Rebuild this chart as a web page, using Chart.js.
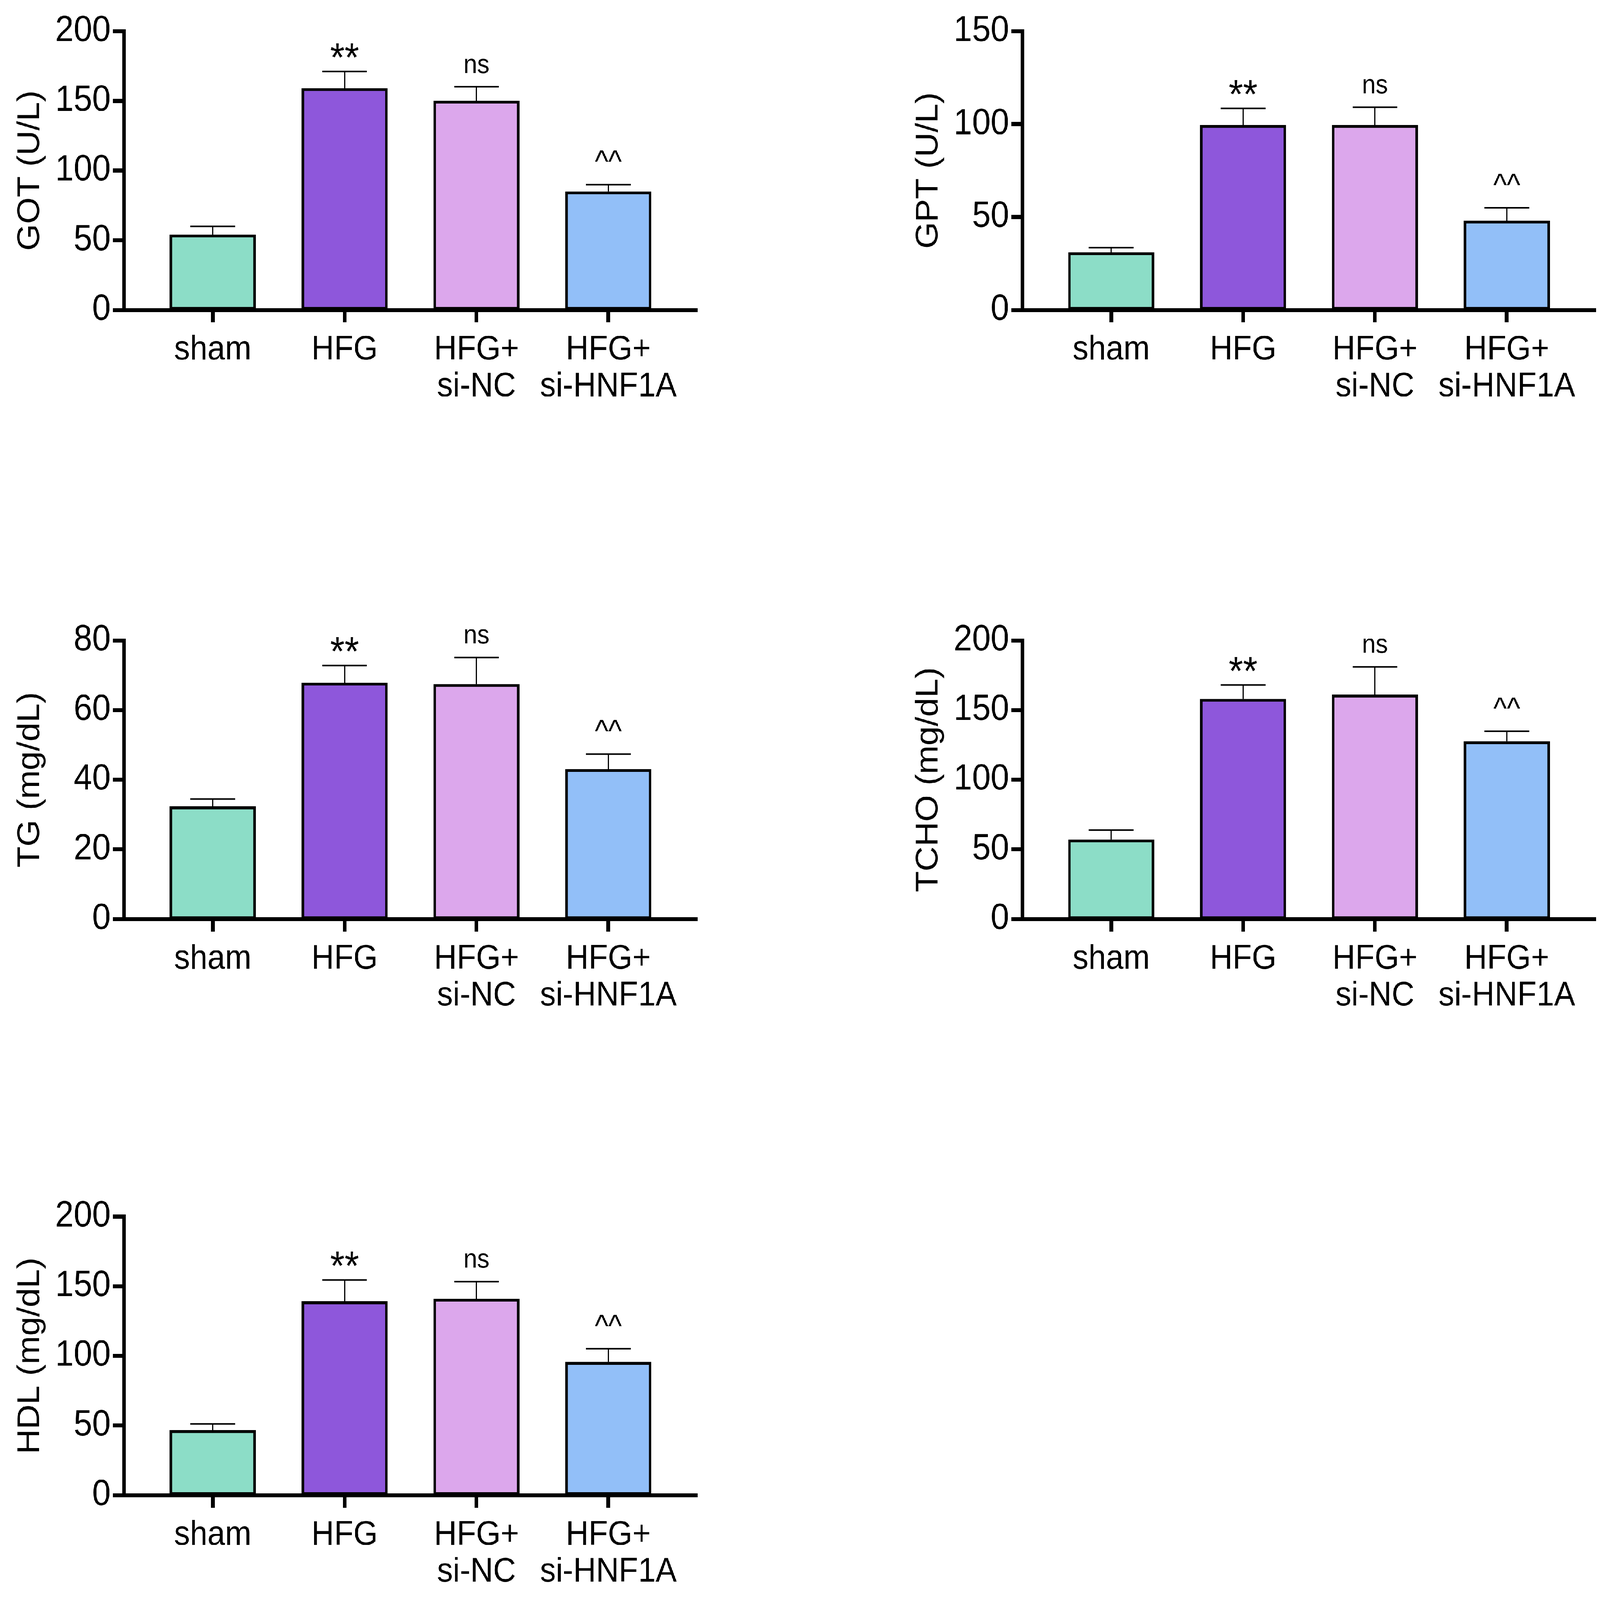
<!DOCTYPE html>
<html>
<head>
<meta charset="utf-8">
<script src="https://cdn.jsdelivr.net/npm/chart.js@4.4.1/dist/chart.umd.min.js"></script>
<style>
  html, body { margin: 0; padding: 0; background: #fff; overflow: hidden; }
  #sheet { position: absolute; left: 0; top: 0; width: 5581px; height: 5127px; transform-origin: 0 0; background: #fff; }
  canvas { position: absolute; }
</style>
</head>
<body>
<div id="sheet">
  <canvas id="got"></canvas>
  <canvas id="gpt"></canvas>
  <canvas id="tg"></canvas>
  <canvas id="tcho"></canvas>
  <canvas id="hdl"></canvas>
</div>
<script>
// groups on the x axis (multi-line labels)
const groups = [["sham"], ["HFG"], ["HFG+", "si-NC"], ["HFG+", "si-HNF1A"]];
const barColors = ["#8CDDC7", "#8E57DB", "#DCA7EC", "#92BFF8"];
const marks = ["", "**", "ns", "^^"];

// mean and SD (upper error) per group
const gotMean = [54, 159, 150, 85];
const gotErr = [6, 12, 10, 5];
const gptMean = [31, 99.5, 99.5, 48];
const gptErr = [2.5, 9, 9.5, 7];
const tgMean = [32.3, 67.8, 67.4, 43];
const tgErr = [2.2, 5, 7.7, 4.4];
const tchoMean = [57, 158, 161, 127.5];
const tchoErr = [6.8, 10, 20, 7.2];
const hdlMean = [46.6, 139, 140.8, 95.5];
const hdlErr = [4.5, 15.5, 12.5, 9.5];

// the sheet is laid out at 5581 x 5127 and scaled to fill the window
const sheet = document.getElementById("sheet");
sheet.style.transform = "scale(" + (window.innerWidth / 5581) + "," + (window.innerHeight / 5127) + ")";

const FONT = "'Liberation Sans', Arial, sans-serif";
const Y_W = 432;      // width reserved for y axis (labels + title)
const X_H = 400;      // height reserved for x axis labels
const PAD_TOP = 80;
const PLOT_W = 2000;
const PLOT_H = 893;

// error bars + significance marks
const errPlugin = {
  id: "errbars",
  afterDatasetsDraw(chart, args, opts) {
    const ctx = chart.ctx;
    const y = chart.scales.y;
    const meta = chart.getDatasetMeta(0);
    ctx.save();
    ctx.strokeStyle = "#000";
    ctx.fillStyle = "#000";
    opts.mean.forEach((m, i) => {
      const x = meta.data[i].x;
      const yBar = y.getPixelForValue(m);
      const yCap = y.getPixelForValue(m + opts.err[i]);
      ctx.lineWidth = 4;
      ctx.beginPath();
      ctx.moveTo(x, yBar);
      ctx.lineTo(x, yCap);
      ctx.stroke();
      ctx.lineWidth = 5;
      ctx.beginPath();
      ctx.moveTo(x - 78, yCap);
      ctx.lineTo(x + 78, yCap);
      ctx.stroke();
      const mk = marks[i];
      if (!mk) return;
      ctx.textAlign = "center";
      ctx.textBaseline = "alphabetic";
      if (mk === "**") {
        ctx.font = "130px " + FONT;
        ctx.fillText(mk, x, yCap);
      } else if (mk === "ns") {
        ctx.font = "85px " + FONT;
        ctx.fillText(mk, x, yCap - 45);
      } else {
        ctx.font = "100px " + FONT;
        ctx.fillText(mk, x, yCap - 40);
      }
    });
    ctx.restore();
  }
};

function panel(id, title, mean, err, yMax, step, axisX, plotTop) {
  const cv = document.getElementById(id);
  cv.width = Y_W + PLOT_W + 20;
  cv.height = PAD_TOP + PLOT_H + X_H;
  cv.style.left = (axisX - Y_W) + "px";
  cv.style.top = (plotTop - PAD_TOP) + "px";
  new Chart(cv.getContext("2d"), {
    type: "bar",
    data: {
      datasets: [{
        data: mean.map((v, i) => ({ x: i, y: v })),
        backgroundColor: barColors,
        borderColor: "#000",
        borderWidth: 9,
        borderSkipped: false,
        barThickness: 300
      }]
    },
    options: {
      responsive: false,
      devicePixelRatio: 1,
      animation: false,
      layout: { padding: { top: PAD_TOP, right: 20, left: 0, bottom: 0 } },
      plugins: {
        legend: { display: false },
        tooltip: { enabled: false },
        errbars: { mean: mean, err: err }
      },
      scales: {
        x: {
          type: "linear",
          offset: false,
          min: -0.674,
          max: 3.674,
          afterBuildTicks: (s) => { s.ticks = [0, 1, 2, 3].map(v => ({ value: v })); },
          afterFit: (s) => { s.height = X_H; },
          ticks: {
            callback: (v) => groups[v],
            color: "#000",
            font: { family: FONT, size: 110, lineHeight: 1.07 },
            padding: 30,
            maxRotation: 0,
            autoSkip: false
          },
          grid: { offset: false, drawOnChartArea: false, tickLength: 40, tickWidth: 13, tickColor: "#000" },
          border: { width: 13, color: "#000" }
        },
        y: {
          min: 0,
          max: yMax,
          afterFit: (s) => { s.width = Y_W; },
          ticks: {
            stepSize: step,
            color: "#000",
            font: { family: FONT, size: 116 },
            padding: 8
          },
          grid: { drawOnChartArea: false, tickLength: 38, tickWidth: 13, tickColor: "#000" },
          border: { width: 13, color: "#000" },
          title: {
            display: true,
            text: title,
            color: "#000",
            font: { family: FONT, size: 110 },
            padding: { top: 40, bottom: 0 }
          }
        }
      }
    },
    plugins: [errPlugin]
  });
}

panel("got", "GOT (U/L)", gotMean, gotErr, 200, 50, 432, 100);
panel("gpt", "GPT (U/L)", gptMean, gptErr, 150, 50, 3566, 100);
panel("tg", "TG (mg/dL)", tgMean, tgErr, 80, 20, 432, 2052);
panel("tcho", "TCHO (mg/dL)", tchoMean, tchoErr, 200, 50, 3566, 2052);
panel("hdl", "HDL (mg/dL)", hdlMean, hdlErr, 200, 50, 432, 3898);
</script>
</body>
</html>
